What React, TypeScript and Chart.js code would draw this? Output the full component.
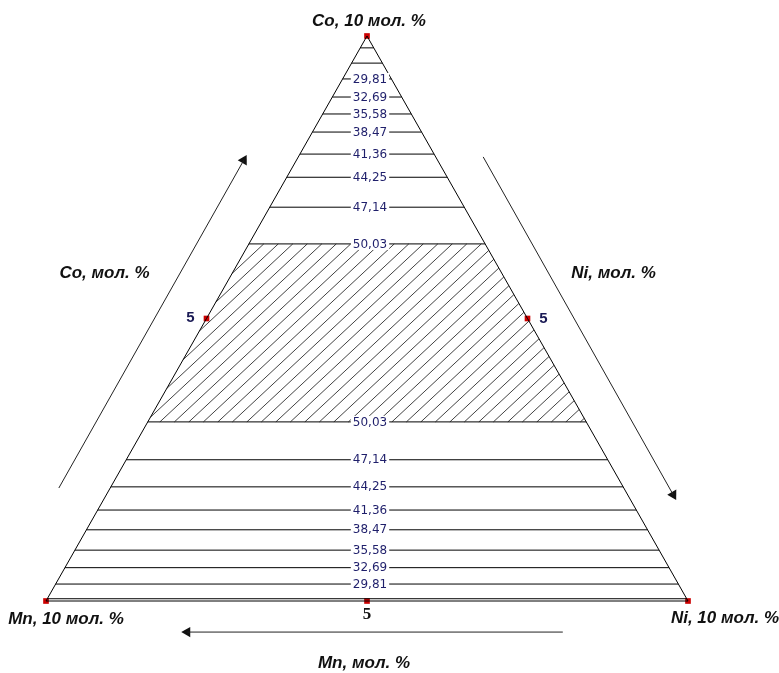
import React, { useEffect, useRef } from "react";
import { Chart, registerables } from "chart.js";
Chart.register(...registerables);

// Ternary system Co (apex) – Mn (bottom left) – Ni (bottom right), total 10 mol. %
const TOTAL = 10;
const VERTEX_NAMES = ["Co, 10 мол. %", "Mn, 10 мол. %", "Ni, 10 мол. %"];
const AXIS_NAMES = ["Co, мол. %", "Ni, мол. %", "Mn, мол. %"];
const MID_TICKS = ["5", "5", "5"];

// vertices and edge midpoints, given as (Co, Ni) content
const VERTEX_CO = [10, 0, 0];
const VERTEX_NI = [0, 0, 10];
const MID_CO = [5, 5, 0];
const MID_NI = [0, 5, 5];

// iso-lines (constant Co content) in the upper part of the diagram
const UPPER_LEVELS_CO = [9.79, 9.52, 9.24, 8.92, 8.62, 8.3, 7.91, 7.5, 6.97, 6.32];
const UPPER_LABELS = ["", "", "29,81", "32,69", "35,58", "38,47", "41,36", "44,25", "47,14", "50,03"];
// iso-lines in the lower part of the diagram
const LOWER_LEVELS_CO = [3.17, 2.5, 2.02, 1.61, 1.26, 0.9, 0.59, 0.3, 0.04];
const LOWER_LABELS = ["50,03", "47,14", "44,25", "41,36", "38,47", "35,58", "32,69", "29,81", ""];

// hatched (optimum) zone, between these Co contents
const SHADED_CO = [3.17, 6.32];

// direction arrows in diagram coordinates [x, y]
const ARROW_TAILS = [[0.2, 2.0], [6.81, 7.86], [8.05, -0.55]];
const ARROW_HEADS = [[3.08, 7.8], [9.77, 1.88], [2.2, -0.55]];

// ---- layout (pixels) ----
const W = 779;
const H = 673;
const FRAME = { left: 46, right: 688, top: 36, base: 601 };
const PX_X = (FRAME.right - FRAME.left) / TOTAL;
const PX_Y = (FRAME.base - FRAME.top) / TOTAL;
const HATCH_ANGLE_DEG = 43;
const HATCH_STEP_PX = 14.5;

const tern = (co: number, ni: number) => ({ x: ni + co / 2, y: co });

function isoLine(co: number) {
  return [tern(co, 0), tern(co, TOTAL - co)];
}

function hatchSegments(lo: number, hi: number) {
  const slope = Math.tan((HATCH_ANGLE_DEG * Math.PI) / 180) * PX_X / PX_Y; // dy/dx in data units
  const inv = 1 / slope;
  const step = HATCH_STEP_PX / PX_X;
  const segs: { x: number; y: number }[][] = [];
  for (let b = lo / 2 - (hi - lo) * inv - step; b <= TOTAL; b += step) {
    const yLeft = (lo * inv - b) / (inv - 0.5);
    const yRight = (TOTAL - b + lo * inv) / (inv + 0.5);
    const yA = Math.max(lo, yLeft);
    const yB = Math.min(hi, yRight);
    if (yB > yA + 1e-6) {
      segs.push([
        { x: b + (yA - lo) * inv, y: yA },
        { x: b + (yB - lo) * inv, y: yB },
      ]);
    }
  }
  return segs;
}

type Note = { text: string; ax: number; ay: number; dx: number; dy: number; font: string; color: string };

export default function App() {
  const ref = useRef<HTMLCanvasElement | null>(null);

  useEffect(() => {
    if (!ref.current) return;
    const lineBase = { showLine: true, pointRadius: 0, fill: false, borderColor: "#000", tension: 0 };
    const datasets: any[] = [];

    hatchSegments(SHADED_CO[0], SHADED_CO[1]).forEach((s) =>
      datasets.push({ ...lineBase, data: s, borderWidth: 0.8, borderColor: "#111" })
    );
    [...UPPER_LEVELS_CO, ...LOWER_LEVELS_CO].forEach((c) =>
      datasets.push({ ...lineBase, data: isoLine(c), borderWidth: 1 })
    );
    const v = VERTEX_CO.map((c, i) => tern(c, VERTEX_NI[i]));
    datasets.push({ ...lineBase, data: [v[0], v[1], v[2], v[0]], borderWidth: 1 });

    ARROW_TAILS.forEach((t, i) => {
      datasets.push({
        ...lineBase,
        data: [{ x: t[0], y: t[1] }, { x: ARROW_HEADS[i][0], y: ARROW_HEADS[i][1] }],
        borderWidth: 1,
        borderColor: "#222",
      });
    });
    datasets.push({
      showLine: false,
      data: ARROW_HEADS.map((h) => ({ x: h[0], y: h[1] })),
      pointStyle: "triangle",
      pointRadius: 6,
      pointBorderWidth: 0,
      pointBackgroundColor: "#111",
      pointRotation: (ctx: any) => {
        const i = ctx.dataIndex;
        const sx = ctx.chart.scales.x;
        const sy = ctx.chart.scales.y;
        if (!sx || !sy || i === undefined) return 0;
        const t = ARROW_TAILS[i];
        const h = ARROW_HEADS[i];
        const dx = sx.getPixelForValue(h[0]) - sx.getPixelForValue(t[0]);
        const dy = sy.getPixelForValue(h[1]) - sy.getPixelForValue(t[1]);
        return (Math.atan2(dx, -dy) * 180) / Math.PI;
      },
    });
    datasets.push({
      showLine: false,
      data: [...v, ...MID_CO.map((c, i) => tern(c, MID_NI[i]))],
      pointStyle: "rect",
      pointRadius: 4,
      pointBorderWidth: 0,
      pointBackgroundColor: "#cc0000",
    });

    const mainFont = "italic bold 17px 'Liberation Sans', Arial, sans-serif";
    const tickFont = "bold 15px 'Liberation Sans', Arial, sans-serif";
    const ink = "#111";
    const notes: Note[] = [
      { text: VERTEX_NAMES[0], ax: v[0].x, ay: v[0].y, dx: 2, dy: -15, font: mainFont, color: ink },
      { text: VERTEX_NAMES[1], ax: v[1].x, ay: v[1].y, dx: 20, dy: 18, font: mainFont, color: ink },
      { text: VERTEX_NAMES[2], ax: v[2].x, ay: v[2].y, dx: 37, dy: 17, font: mainFont, color: ink },
      { text: AXIS_NAMES[0], ax: 2.5, ay: 5, dx: -102, dy: -45, font: mainFont, color: ink },
      { text: AXIS_NAMES[1], ax: 7.5, ay: 5, dx: 86, dy: -45, font: mainFont, color: ink },
      { text: AXIS_NAMES[2], ax: 5, ay: 0, dx: -3, dy: 62, font: mainFont, color: ink },
    ];
    MID_TICKS.forEach((t, i) => {
      const p = tern(MID_CO[i], MID_NI[i]);
      const off = [[-16, -1], [16, 0], [0, 14]][i];
      notes.push({
        text: t,
        ax: p.x,
        ay: p.y,
        dx: off[0],
        dy: off[1],
        font: i === 2 ? "bold 17px 'Liberation Serif', serif" : tickFont,
        color: i === 2 ? "#111" : "#1a1a55",
      });
    });

    const labelPlugin = {
      id: "ternaryLabels",
      afterDatasetsDraw(chart: any) {
        const { ctx, scales } = chart;
        const sx = scales.x;
        const sy = scales.y;
        ctx.save();
        ctx.textAlign = "center";
        ctx.textBaseline = "middle";
        ctx.font = "12px 'DejaVu Sans', Verdana, sans-serif";
        const all = [
          ...UPPER_LEVELS_CO.map((c, i) => [c, UPPER_LABELS[i]] as [number, string]),
          ...LOWER_LEVELS_CO.map((c, i) => [c, LOWER_LABELS[i]] as [number, string]),
        ];
        all.forEach(([c, t]) => {
          if (!t) return;
          const px = sx.getPixelForValue(TOTAL / 2) + 3;
          const py = sy.getPixelForValue(c);
          const w = ctx.measureText(t).width;
          ctx.fillStyle = "#fff";
          ctx.fillRect(px - w / 2 - 2, py - 6, w + 4, 12);
          ctx.fillStyle = "#1f1f6b";
          ctx.fillText(t, px, py + 0.5);
        });
        notes.forEach((n) => {
          ctx.font = n.font;
          ctx.fillStyle = n.color;
          ctx.fillText(n.text, sx.getPixelForValue(n.ax) + n.dx, sy.getPixelForValue(n.ay) + n.dy);
        });
        ctx.restore();
      },
    };

    const chart = new Chart(ref.current, {
      type: "scatter",
      data: { datasets },
      options: {
        animation: false,
        responsive: false,
        events: [],
        layout: { padding: 0, autoPadding: false },
        plugins: { legend: { display: false }, tooltip: { enabled: false } },
        scales: {
          x: {
            type: "linear",
            display: false,
            bounds: "data",
            min: -FRAME.left / PX_X,
            max: (W - FRAME.left) / PX_X,
          },
          y: {
            type: "linear",
            display: false,
            bounds: "data",
            min: -(H - FRAME.base) / PX_Y,
            max: FRAME.base / PX_Y,
          },
        },
        elements: { line: { borderCapStyle: "butt" } },
      },
      plugins: [labelPlugin],
    });
    return () => chart.destroy();
  }, []);

  return (
    <div style={{ position: "fixed", left: 0, top: 0, width: W, height: H, background: "#fff" }}>
      <canvas ref={ref} width={W} height={H} style={{ display: "block" }} />
    </div>
  );
}
